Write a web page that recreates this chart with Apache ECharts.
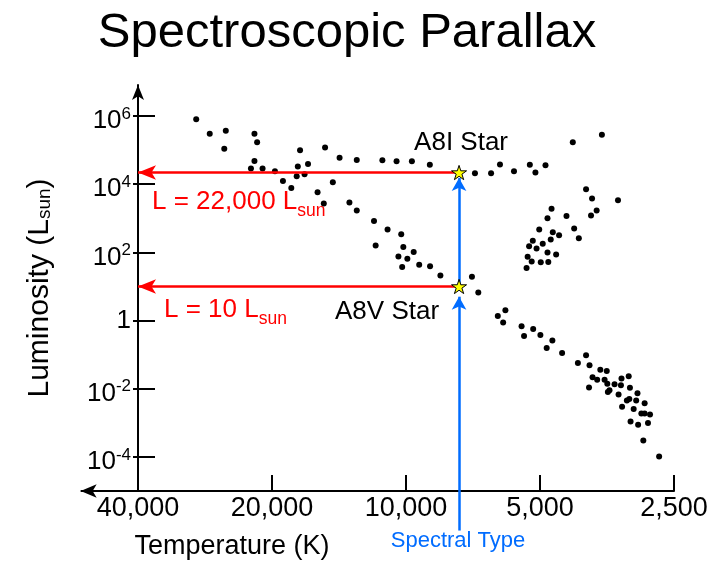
<!DOCTYPE html>
<html>
<head>
<meta charset="utf-8">
<title>Spectroscopic Parallax</title>
<script src="https://cdn.jsdelivr.net/npm/echarts@6/dist/echarts.min.js"></script>
<style>
  html, body { margin: 0; padding: 0; background: #fff; }
  #chart { width: 726px; height: 563px; }
</style>
</head>
<body>
<div id="chart"></div>
<script>
// temperatures in K, luminosities in L_sun
var blueTemp = [29600, 27600, 25400, 25600, 21900, 21600, 21900, 22300, 21000, 19700,
  17300, 15200, 14100, 12900, 17500, 16600, 17600, 16900, 18900, 18100,
  14600, 15800, 15300, 13400, 12900, 11800, 11700];
var blueLum = [810000, 300000, 370000, 110000, 300000, 170000, 48000, 29000, 29000, 24000,
  99000, 120000, 60000, 51000, 33000, 39000, 17000, 19500, 12400, 7700,
  11400, 5800, 2700, 2900, 1700, 830, 160];

var superTemp = [11300, 10500, 9700, 8840, 7000, 6440, 6150, 5720, 5270, 5120, 4860, 4220, 3630];
var superLum = [50000, 47000, 47000, 37000, 21000, 21000, 38000, 24000, 37000, 22000, 36000, 170000, 280000];

var giantTemp = [3940, 3820, 3340, 3730, 3840, 4710, 4810, 4360, 5020, 4680,
  4530, 5190, 4930, 4730, 4190, 4090, 5290, 5090, 4810, 4600,
  5330, 5360, 5220, 4980, 4790];
var giantLum = [7100, 3800, 3400, 1700, 1200, 1900, 1000, 1160, 470, 390,
  320, 220, 180, 240, 500, 260, 150, 130, 100, 87,
  74, 35, 54, 51, 52];

var mainTemp = [11000, 10250, 10140, 9610, 10400, 9930, 10200, 9340, 8830, 8370,
  7110, 6880, 5980, 6220, 6050, 5500, 5180, 5430, 4990, 4690,
  4830, 4460, 3940, 4110, 3870, 3660, 3540, 3810, 3720, 3580,
  3880, 3530, 3400, 3280, 3160, 3290, 3140, 3520, 3490, 3330,
  3020, 3190, 3150, 3040, 2910, 3270, 3080, 2960, 2910, 2830,
  3130, 3010, 2860, 2930, 2700];
var mainLum = [470, 340, 143, 102, 76, 65, 37, 43, 39, 21,
  19.4, 6.65, 2.0, 1.36, 0.87, 0.68, 0.57, 0.35, 0.38, 0.26,
  0.157, 0.112, 0.0955, 0.0568, 0.0486, 0.0363, 0.033, 0.0216, 0.0185, 0.0185,
  0.0108, 0.0141, 0.0136, 0.0199, 0.0231, 0.0126, 0.0107, 0.008, 0.009, 0.0068,
  0.0074, 0.00455, 0.00497, 0.00455, 0.00377, 0.00297, 0.00256, 0.00189, 0.00189, 0.00174,
  0.0011, 0.00088, 0.00099, 0.000304, 0.000103];

// the two A8 stars
var markedNames = ['A8I Star', 'A8V Star'];
var markedTemp = [7600, 7600];
var markedLum = [22000, 10];

var tempTicks = [40000, 20000, 10000, 5000, 2500];
var lumTickPowers = [-4, -2, 0, 2, 4, 6];

var FONT = '"Liberation Sans", Arial, Helvetica, sans-serif';
var RED = '#ff0000';
var BLUE = '#006cff';
var T0 = 40000; // temperature where the luminosity axis sits

// axes are linear in log2(T0/T) and log10(L)
function tx(t) { return Math.log2(T0 / t); }
function ly(l) { return Math.log10(l); }
function pts(ts, ls) {
  return ts.map(function (t, i) { return [tx(t), ly(ls[i])]; });
}

var yMin = -5, yMax = 6.91;
var xArrowEnd = -0.428;       // temperature axis runs a bit past 40,000
var spectralBottom = -6.16;   // where the blue line starts below the axis
var tipGap = [0.16, 0.3];     // blue arrow stop below each star

var starPath = 'path://M50 0L61.23 34.55L97.55 34.55L68.16 55.9L79.39 90.45L50 69.1L20.61 90.45L31.84 55.9L2.45 34.55L38.77 34.55Z';

var axisLineStyle = { color: '#000', width: 2 };
var dotStyle = { color: '#000', opacity: 1 };

var chart = echarts.init(document.getElementById('chart'));

var uStar = tx(markedTemp[0]);
var redLines = markedLum.map(function (l) {
  return { coords: [[uStar, ly(l)], [0, ly(l)]] };
});
var blueLines = [
  { coords: [[uStar, spectralBottom], [uStar, ly(markedLum[1]) - tipGap[1]]] },
  { coords: [[uStar, ly(markedLum[1])], [uStar, ly(markedLum[0]) - tipGap[0]]] }
];

var labelOffsets = [[2, -30], [-72, 25]];

function subLabel(x, y, lum) {
  return {
    type: 'text', x: x, y: y, silent: true,
    style: {
      text: '{m|L = ' + lum.toLocaleString('en-US') + ' L}{s|sun}',
      fill: RED, align: 'left', verticalAlign: 'middle',
      rich: {
        m: { fontSize: 26, lineHeight: 26, fontFamily: FONT, fill: RED },
        s: { fontSize: 17.5, lineHeight: 26, padding: [19, 0, 0, 0], fontFamily: FONT, fill: RED }
      }
    }
  };
}

var option = {
  animation: false,
  backgroundColor: '#fff',
  textStyle: { fontFamily: FONT },
  grid: { left: 138, right: 52, top: 85, bottom: 72, outerBoundsMode: 'none' },
  xAxis: {
    type: 'value',
    min: 0,
    max: 4,
    axisLine: { show: true, onZero: false, lineStyle: axisLineStyle },
    axisTick: { show: true, inside: true, length: 16, customValues: tempTicks.map(tx), lineStyle: axisLineStyle },
    axisLabel: {
      show: true,
      customValues: tempTicks.map(tx),
      margin: 4,
      color: '#000',
      fontSize: 27,
      fontFamily: FONT,
      formatter: function (v) {
        return Math.round(T0 / Math.pow(2, v)).toLocaleString('en-US');
      }
    },
    splitLine: { show: false }
  },
  yAxis: [{
    type: 'value',
    position: 'left',
    min: yMin,
    max: yMax,
    axisLine: {
      show: true, onZero: false,
      symbol: ['none', 'arrow'], symbolSize: [9, 15],
      lineStyle: axisLineStyle
    },
    axisTick: { show: true, inside: true, length: 17, customValues: lumTickPowers, lineStyle: axisLineStyle },
    axisLabel: {
      show: true,
      customValues: lumTickPowers,
      margin: 7,
      color: '#000',
      fontFamily: FONT,
      formatter: function (v) {
        return v === 0 ? '{one|1}' : '{b|10}{p|' + v + '}';
      },
      rich: {
        one: { fontSize: 26, lineHeight: 26, fontFamily: FONT, color: '#000' },
        b: { fontSize: 26, lineHeight: 26, padding: [10, 0, 0, 0], fontFamily: FONT, color: '#000' },
        p: { fontSize: 17, lineHeight: 26, padding: [0, 0, 4, 0], fontFamily: FONT, color: '#000' }
      }
    },
    splitLine: { show: false },
    name: '{a|Luminosity (L}{s|sun}{a|)}',
    nameLocation: 'middle',
    nameRotate: 90,
    nameGap: 82,
    nameTextStyle: {
      color: '#000',
      fontFamily: FONT,
      rich: {
        a: { fontSize: 30, lineHeight: 32, fontFamily: FONT, color: '#000' },
        s: { fontSize: 19, lineHeight: 32, padding: [9, 0, 0, 0], fontFamily: FONT, color: '#000' }
      }
    }
  }, {
    // second copy only for the short outer ticks
    type: 'value',
    position: 'left',
    offset: 0,
    min: yMin,
    max: yMax,
    axisLine: { show: false, onZero: false },
    axisTick: { show: true, inside: false, length: 5, customValues: lumTickPowers, lineStyle: axisLineStyle },
    axisLabel: { show: false },
    splitLine: { show: false }
  }],
  series: [
    { type: 'scatter', symbolSize: 6, itemStyle: dotStyle, data: pts(blueTemp, blueLum) },
    { type: 'scatter', symbolSize: 6, itemStyle: dotStyle, data: pts(superTemp, superLum) },
    { type: 'scatter', symbolSize: 6, itemStyle: dotStyle, data: pts(giantTemp, giantLum) },
    { type: 'scatter', symbolSize: 6, itemStyle: dotStyle, data: pts(mainTemp, mainLum) },
    {
      // temperature axis continues left with its arrow
      type: 'lines',
      coordinateSystem: 'cartesian2d',
      clip: false,
      z: 3,
      symbol: ['none', 'arrow'],
      symbolSize: [[10, 16], [10, 16]],
      lineStyle: { color: '#000', width: 2, opacity: 1 },
      data: [{ coords: [[0, yMin], [xArrowEnd, yMin]] }]
    },
    {
      type: 'lines',
      coordinateSystem: 'cartesian2d',
      clip: false,
      z: 5,
      symbol: ['none', 'arrow'],
      symbolSize: [[11, 18], [11, 18]],
      lineStyle: { color: RED, width: 2.5, opacity: 1 },
      data: redLines
    },
    {
      type: 'lines',
      coordinateSystem: 'cartesian2d',
      clip: false,
      z: 5,
      symbol: ['none', 'arrow'],
      symbolSize: [[11, 13], [11, 13]],
      lineStyle: { color: BLUE, width: 2.5, opacity: 1 },
      data: blueLines
    },
    {
      type: 'scatter',
      z: 10,
      symbol: starPath,
      symbolSize: 15,
      symbolKeepAspect: true,
      itemStyle: { color: '#ffff00', borderColor: '#000', borderWidth: 1, opacity: 1 },
      label: {
        show: true,
        position: 'inside',
        formatter: '{b}',
        color: '#000',
        opacity: 1,
        textBorderWidth: 0,
        textBorderColor: 'transparent',
        fontSize: 26,
        fontFamily: FONT
      },
      data: markedNames.map(function (n, i) {
        return {
          name: n,
          value: [tx(markedTemp[i]), ly(markedLum[i])],
          label: { offset: labelOffsets[i] }
        };
      })
    }
  ],
  graphic: [
    {
      type: 'text', x: 347, y: 33, silent: true,
      style: { text: 'Spectroscopic Parallax', fill: '#000', fontSize: 49, fontFamily: FONT, align: 'center', verticalAlign: 'middle' }
    },
    {
      type: 'text', x: 232, y: 547, silent: true,
      style: { text: 'Temperature (K)', fill: '#000', fontSize: 27, fontFamily: FONT, align: 'center', verticalAlign: 'middle' }
    },
    {
      type: 'text', x: 458, y: 541, silent: true,
      style: { text: 'Spectral Type', fill: BLUE, fontSize: 22, fontFamily: FONT, align: 'center', verticalAlign: 'middle' }
    },
    subLabel(152, 202, markedLum[0]),
    subLabel(164, 310, markedLum[1])
  ]
};

chart.setOption(option);
</script>
</body>
</html>
